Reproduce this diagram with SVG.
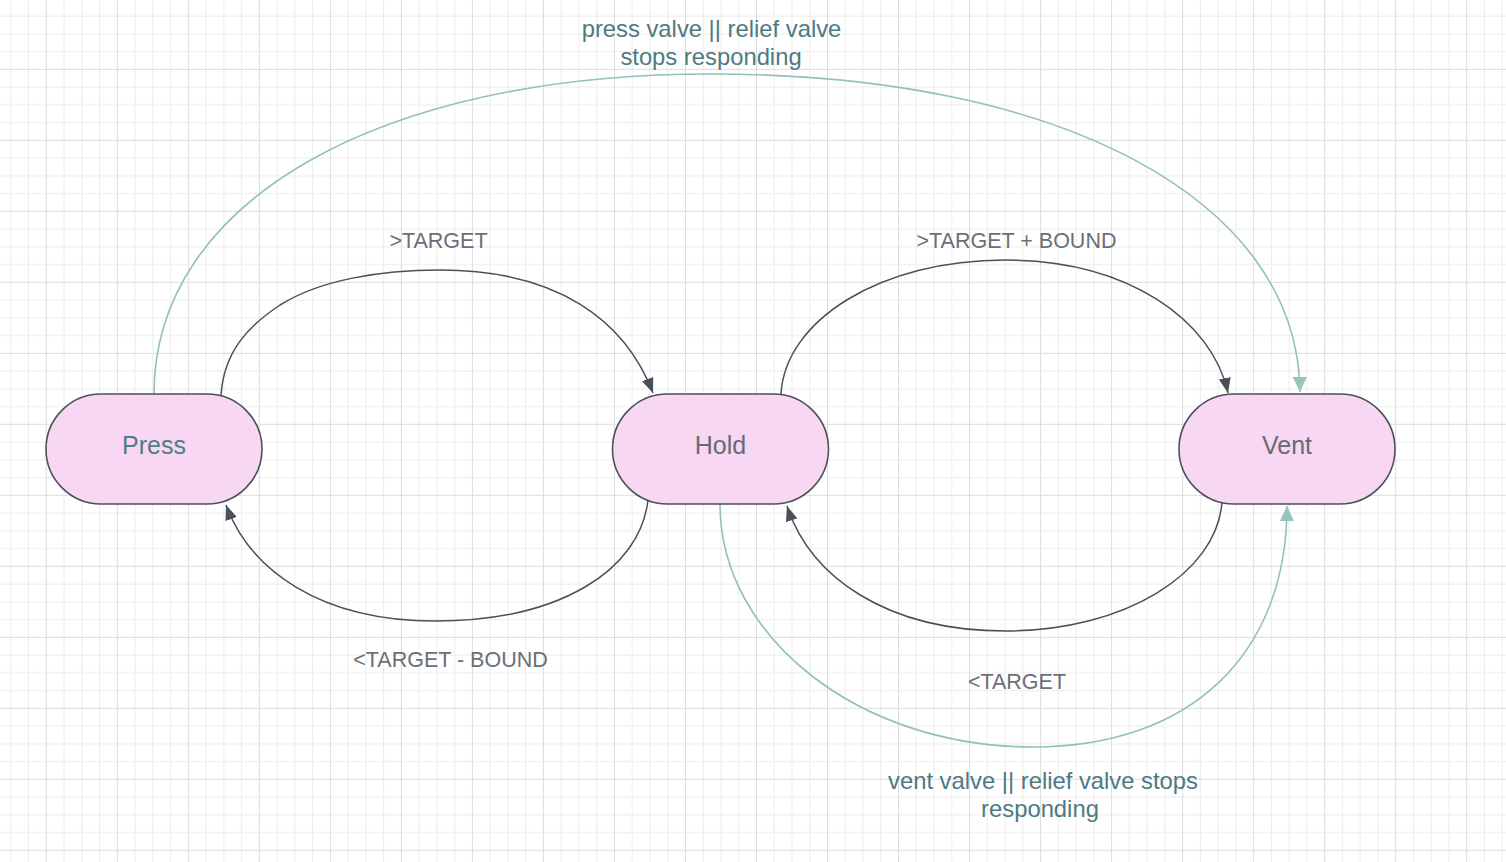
<svg xmlns="http://www.w3.org/2000/svg" width="1506" height="862" viewBox="0 0 1506 862">
<defs>
<pattern id="grid" patternUnits="userSpaceOnUse" x="45.8" y="68.8" width="71.02" height="71">
<path d="M18.255 0V71M36.01 0V71M53.765 0V71M0 18.25H71.02M0 36H71.02M0 53.75H71.02" stroke="#ececec" stroke-width="1" fill="none"/>
<path d="M0.5 0V71M0 0.5H71.02" stroke="#dcdcdc" stroke-width="1" fill="none"/>
</pattern>
<marker id="arrDark" markerUnits="userSpaceOnUse" viewBox="0 0 15 12" refX="15" refY="6" markerWidth="15" markerHeight="12" orient="auto">
<path d="M0 0L15 6L0 12z" fill="#4a4f59"/>
</marker>
<marker id="arrTeal" markerUnits="userSpaceOnUse" viewBox="0 0 15 14" refX="15" refY="7" markerWidth="15" markerHeight="14" orient="auto">
<path d="M0 0L15 7L0 14z" fill="#98c4bb"/>
</marker>
<style>
.node rect{fill:#f8d7f2;stroke:#4c5059;stroke-width:1.6}
.nlabel{font-family:"Liberation Sans",Arial,sans-serif;font-size:25px;text-anchor:middle;fill:#696b73}
.elabel{font-family:"Liberation Sans",Arial,sans-serif;font-size:21.5px;text-anchor:middle;fill:#6c6f77}
.tlabel{font-family:"Liberation Sans",Arial,sans-serif;font-size:23.8px;text-anchor:middle;fill:#4d7a82}
.dark{fill:none;stroke:#4a4f59;stroke-width:1.5;marker-end:url(#arrDark)}
.teal{fill:none;stroke:#93c1b8;stroke-width:1.6;marker-end:url(#arrTeal)}
</style>
</defs>
<rect x="0" y="0" width="1506" height="862" fill="#ffffff"/>
<rect x="0" y="0" width="1506" height="862" fill="url(#grid)"/>
<g id="connectors">
<path class="dark" d="M221 395C224 350 250 325 280 305C320 280 380 270 440 270C557 270 625 320 653 393"/>
<path class="dark" d="M648 500C640 570 560 621 435 621C320 621 250 570 226 505"/>
<path class="dark" d="M781 394C785 320 881 260 1005 260C1128 260 1212 320 1228 393"/>
<path class="dark" d="M1222 502C1217 573 1125 631 1006 631C885 631 810 576 787 506"/>
<path class="teal" d="M154 394C154 202 377 74 711 74C1064 74 1298 201 1300 392"/>
<path class="teal" d="M720 504C720 638 860 747 1033 747C1190 747 1287 655 1287 506"/>
</g>
<g id="node-press" class="node">
<rect x="46" y="394" width="216" height="110" rx="55" ry="55"/>
<text class="nlabel" x="154" y="454" style="fill:#547c85">Press</text>
</g>
<g id="node-hold" class="node">
<rect x="612.5" y="394" width="216" height="110" rx="55" ry="55"/>
<text class="nlabel" x="720.5" y="454">Hold</text>
</g>
<g id="node-vent" class="node">
<rect x="1179" y="394" width="216" height="110" rx="55" ry="55"/>
<text class="nlabel" x="1287" y="454">Vent</text>
</g>
<g id="labels">
<text class="elabel" x="438.5" y="247.5">&gt;TARGET</text>
<text class="elabel" x="1016.5" y="247.5">&gt;TARGET + BOUND</text>
<text class="elabel" x="450.5" y="667">&lt;TARGET - BOUND</text>
<text class="elabel" x="1017" y="689">&lt;TARGET</text>
<text class="tlabel" x="711.5" y="36.5">press valve || relief valve</text>
<text class="tlabel" x="711" y="64.5">stops responding</text>
<text class="tlabel" x="1043" y="788.5">vent valve || relief valve stops</text>
<text class="tlabel" x="1040" y="816.5">responding</text>
</g>
</svg>
